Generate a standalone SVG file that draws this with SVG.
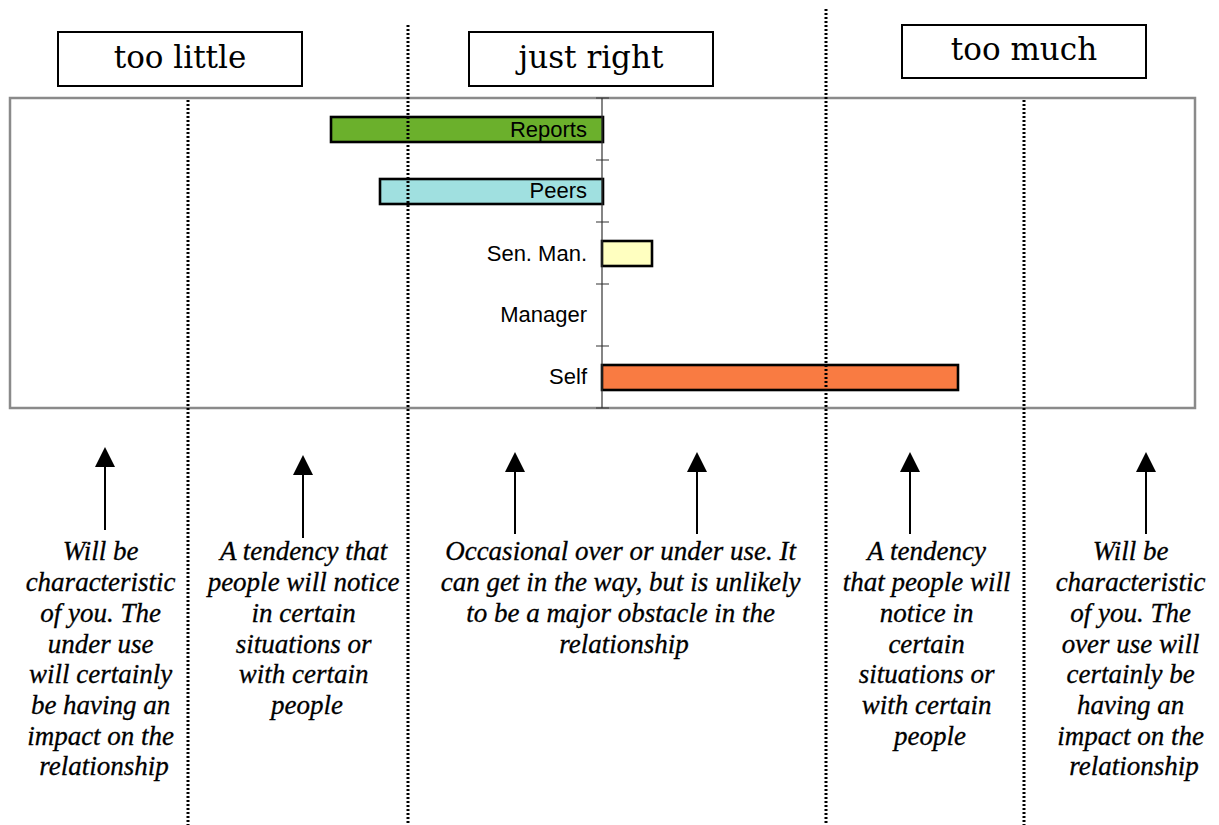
<svg xmlns="http://www.w3.org/2000/svg" width="1219" height="825" viewBox="0 0 1219 825">
<style>
.hbox{fill:#fff;stroke:#000;stroke-width:2}
.htxt{font-family:"DejaVu Serif","Liberation Serif",serif;font-size:31px;fill:#000;text-anchor:middle}
.frame{fill:none;stroke:#8a8a8a;stroke-width:2.5}
.dot{stroke:#000;stroke-width:3;stroke-dasharray:2 2;fill:none}
.axis{stroke:#333;stroke-width:1.2;fill:none}
.bar{stroke:#000;stroke-width:2.6}
.lbl{font-family:"Liberation Sans",Arial,sans-serif;font-size:22px;fill:#000;text-anchor:end}
.desc{font-family:"Liberation Serif","Times New Roman",serif;font-style:italic;font-size:27px;fill:#000;stroke:#000;stroke-width:0.3;text-anchor:middle}
.shaft{stroke:#000;stroke-width:2;fill:none}
</style>
<defs>
<marker id="ah" viewBox="0 0 20 20" refX="0" refY="10" markerWidth="20" markerHeight="20" markerUnits="userSpaceOnUse" orient="auto">
<path d="M0,0 L20,10 L0,20 z" fill="#000"/>
</marker>
</defs>
<rect width="1219" height="825" fill="#fff"/>

<g id="header-too-little"><rect class="hbox" x="58" y="32" width="244" height="54"/><text class="htxt" x="180" y="68">too little</text></g>
<g id="header-just-right"><rect class="hbox" x="469" y="32" width="244" height="54"/><text class="htxt" x="591" y="68">just right</text></g>
<g id="header-too-much"><rect class="hbox" x="902" y="25" width="244" height="53"/><text class="htxt" x="1024" y="60">too much</text></g>

<g id="chart">
<rect class="frame" x="10" y="98" width="1185" height="310"/>
<g id="bar-reports"><rect class="bar" x="331" y="117" width="272" height="25" fill="#6BB02C"/><text class="lbl" x="587" y="137">Reports</text></g>
<g id="bar-peers"><rect class="bar" x="380" y="179" width="223" height="25" fill="#A0E0E0"/><text class="lbl" x="587" y="198">Peers</text></g>
<g id="bar-senman"><rect class="bar" x="602" y="241" width="50" height="25" fill="#FFFFC0"/><text class="lbl" x="587" y="261">Sen. Man.</text></g>
<g id="bar-manager"><text class="lbl" x="587" y="322">Manager</text></g>
<g id="bar-self"><rect class="bar" x="602" y="365" width="356" height="25" fill="#F97B42"/><text class="lbl" x="587" y="384">Self</text></g>
<g id="axis">
<line class="axis" x1="602" y1="98" x2="602" y2="408"/>
<path class="axis" d="M596,98H609M596,160H609M596,222H609M596,284H609M596,346H609M596,408H609"/>
</g>
</g>

<g id="dividers">
<line class="dot" x1="188" y1="100" x2="188" y2="825"/>
<line class="dot" x1="408" y1="25" x2="408" y2="825"/>
<line class="dot" x1="826" y1="9" x2="826" y2="825"/>
<line class="dot" x1="1024" y1="100" x2="1024" y2="825"/>
</g>

<g id="connectors">
<line class="shaft" x1="105" y1="530" x2="105" y2="467" marker-end="url(#ah)"/>
<line class="shaft" x1="303" y1="538" x2="303" y2="475" marker-end="url(#ah)"/>
<line class="shaft" x1="515" y1="534" x2="515" y2="472" marker-end="url(#ah)"/>
<line class="shaft" x1="697" y1="534" x2="697" y2="472" marker-end="url(#ah)"/>
<line class="shaft" x1="910" y1="534" x2="910" y2="472" marker-end="url(#ah)"/>
<line class="shaft" x1="1146" y1="534" x2="1146" y2="472" marker-end="url(#ah)"/>
</g>

<g id="desc-1"><text class="desc">
<tspan x="104" y="560">Will be</tspan>
<tspan x="104" y="591">characteristic</tspan>
<tspan x="104" y="622">of you. The</tspan>
<tspan x="104" y="653">under use</tspan>
<tspan x="104" y="683">will certainly</tspan>
<tspan x="104" y="714">be having an</tspan>
<tspan x="104" y="745">impact on the</tspan>
<tspan x="104" y="775">relationship</tspan>
</text></g>
<g id="desc-2"><text class="desc">
<tspan x="307" y="560">A tendency that</tspan>
<tspan x="307" y="591">people will notice</tspan>
<tspan x="307" y="622">in certain</tspan>
<tspan x="307" y="653">situations or</tspan>
<tspan x="307" y="683">with certain</tspan>
<tspan x="307" y="714">people</tspan>
</text></g>
<g id="desc-3"><text class="desc">
<tspan x="624" y="560">Occasional over or under use. It</tspan>
<tspan x="624" y="591">can get in the way, but is unlikely</tspan>
<tspan x="624" y="622">to be a major obstacle in the</tspan>
<tspan x="624" y="653">relationship</tspan>
</text></g>
<g id="desc-4"><text class="desc">
<tspan x="930" y="560">A tendency</tspan>
<tspan x="930" y="591">that people will</tspan>
<tspan x="930" y="622">notice in</tspan>
<tspan x="930" y="653">certain</tspan>
<tspan x="930" y="683">situations or</tspan>
<tspan x="930" y="714">with certain</tspan>
<tspan x="930" y="745">people</tspan>
</text></g>
<g id="desc-5"><text class="desc">
<tspan x="1134" y="560">Will be</tspan>
<tspan x="1134" y="591">characteristic</tspan>
<tspan x="1134" y="622">of you. The</tspan>
<tspan x="1134" y="653">over use will</tspan>
<tspan x="1134" y="683">certainly be</tspan>
<tspan x="1134" y="714">having an</tspan>
<tspan x="1134" y="745">impact on the</tspan>
<tspan x="1134" y="775">relationship</tspan>
</text></g>
</svg>
